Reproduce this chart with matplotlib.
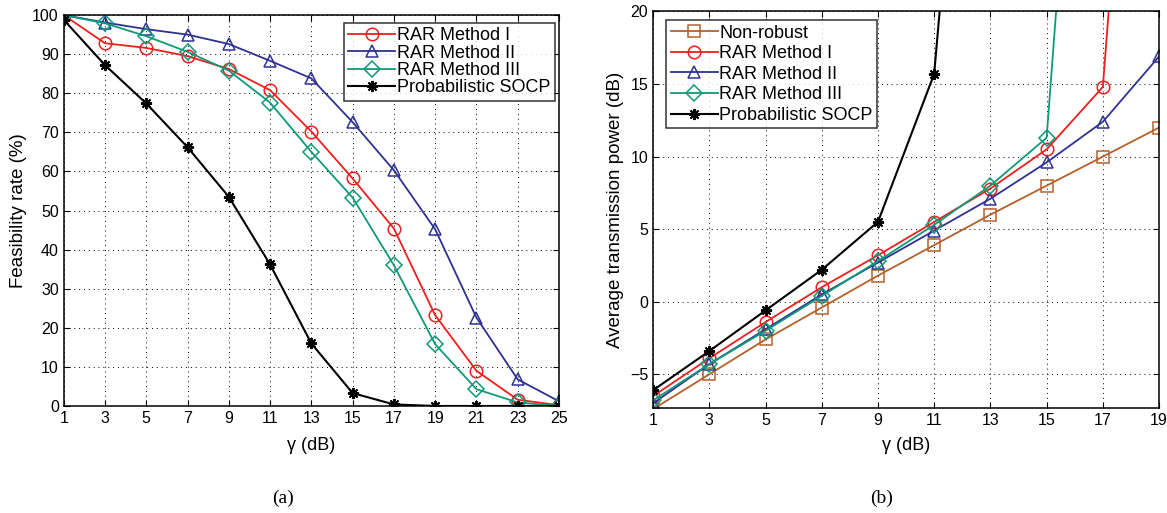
# Feasibility rate (a) and average transmit power (b) vs target SINR gamma
import matplotlib.pyplot as plt

plt.rcParams["font.family"] = ["Liberation Sans", "DejaVu Sans"]

# --- (a) feasibility rate ---
gamma_a = [1, 3, 5, 7, 9, 11, 13, 15, 17, 19, 21, 23, 25]
feas_rar1 = [100, 92.8, 91.6, 89.5, 86.2, 80.8, 70.2, 58.2, 45.4, 23.2, 9.0, 1.6, 0.2]
feas_rar2 = [100, 98.1, 96.4, 95.0, 92.6, 88.3, 83.8, 72.6, 60.3, 45.2, 22.6, 6.8, 1.2]
feas_rar3 = [100, 97.9, 94.6, 90.6, 85.8, 77.6, 65.0, 53.3, 36.0, 15.8, 4.3, 0.9, 0.0]
feas_socp = [98.8, 87.2, 77.4, 66.2, 53.5, 36.2, 16.0, 3.3, 0.4, 0.0, 0.0, 0.0, 0.0]

# --- (b) average transmission power (dB) ---
gamma_b = [1, 3, 5, 7, 9, 11, 13, 15, 17, 19]
pow_nonrobust = [-7.4, -5.0, -2.6, -0.4, 1.8, 3.9, 6.0, 8.0, 10.0, 12.0]
pow_rar1 = [-6.5, -3.9, -1.4, 1.0, 3.2, 5.5, 7.8, 10.5, 14.8, 65.0]
pow_rar2 = [-7.0, -4.3, -1.9, 0.5, 2.7, 4.9, 7.1, 9.6, 12.4, 16.9]
pow_rar3 = [-6.8, -4.3, -2.0, 0.4, 2.8, 5.3, 8.0, 11.3, 63.0, 120.0]
gamma_b_socp = [1, 3, 5, 7, 9, 11, 13]
pow_socp = [-6.1, -3.4, -0.6, 2.2, 5.5, 15.7, 60.0]

RED = "#f01e1e"
BLUE = "#2e3192"
GREEN = "#0e9a78"
BROWN = "#b5602b"
BLACK = "#000000"

mk = dict(markerfacecolor="none", markersize=9, markeredgewidth=1.1, linewidth=1.3)
star = dict(marker=(8, 2, 0), markersize=8, markeredgewidth=1.4, linewidth=1.5)


def style_axes(ax):
    ax.grid(True, linestyle=(0, (1, 4)), color="black", linewidth=0.7)
    ax.tick_params(direction="in", top=True, right=True, labelsize=11.5, length=4)
    for s in ax.spines.values():
        s.set_linewidth(1.1)


def add_legend(ax, loc, anchor, spacing):
    leg = ax.legend(loc=loc, bbox_to_anchor=anchor, fontsize=13, frameon=True,
                    fancybox=False, edgecolor="black", handlelength=2.6,
                    handletextpad=0.1, labelspacing=spacing, borderpad=0.25,
                    borderaxespad=0.0)
    leg.get_frame().set_linewidth(1.1)
    return leg


fig = plt.figure(figsize=(11.67, 5.13), dpi=100)

ax_a = fig.add_axes([0.0546, 0.2086, 0.4244, 0.762])
ax_a.plot(gamma_a, feas_rar1, color=RED, marker="o", label="RAR Method I", **mk)
ax_a.plot(gamma_a, feas_rar2, color=BLUE, marker="^", label="RAR Method II", **mk)
ax_a.plot(gamma_a, feas_rar3, color=GREEN, marker="D", label="RAR Method III",
          **{**mk, "markersize": 8})
ax_a.plot(gamma_a, feas_socp, color=BLACK, label="Probabilistic SOCP", **star)
ax_a.set_xlim(1, 25)
ax_a.set_ylim(0, 100)
ax_a.set_xticks(gamma_a)
ax_a.set_yticks(range(0, 101, 10))
ax_a.set_xlabel("γ (dB)", fontsize=13, labelpad=8)
ax_a.set_ylabel("Feasibility rate (%)", fontsize=13.5)
style_axes(ax_a)
add_legend(ax_a, "upper right", (0.992, 0.98), 0.02)

ax_b = fig.add_axes([0.5596, 0.2053, 0.4336, 0.7723])
ax_b.plot(gamma_b, pow_nonrobust, color=BROWN, marker="s", label="Non-robust", **mk)
ax_b.plot(gamma_b, pow_rar1, color=RED, marker="o", label="RAR Method I", **mk)
ax_b.plot(gamma_b, pow_rar2, color=BLUE, marker="^", label="RAR Method II", **mk)
ax_b.plot(gamma_b, pow_rar3, color=GREEN, marker="D", label="RAR Method III",
          **{**mk, "markersize": 8})
ax_b.plot(gamma_b_socp, pow_socp, color=BLACK, label="Probabilistic SOCP", **star)
ax_b.set_xlim(1, 19)
ax_b.set_ylim(-7.3, 20)
ax_b.set_xticks(gamma_b)
ax_b.set_yticks([-5, 0, 5, 10, 15, 20])
ax_b.set_xlabel("γ (dB)", fontsize=13, labelpad=7)
ax_b.set_ylabel("Average transmission power (dB)", fontsize=13.5)
style_axes(ax_b)
add_legend(ax_b, "upper left", (0.0257, 0.9785), 0.2)

fig.text(0.2425, 0.028, "(a)", ha="center", va="center", fontsize=14,
         family=["Liberation Serif", "DejaVu Serif"])
fig.text(0.7556, 0.028, "(b)", ha="center", va="center", fontsize=14,
         family=["Liberation Serif", "DejaVu Serif"])

fig.savefig("out.png", dpi=100)
